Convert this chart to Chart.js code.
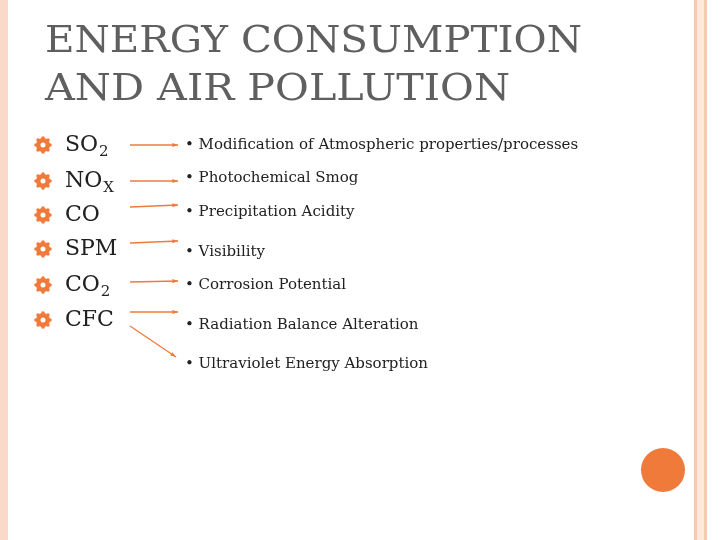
<!DOCTYPE html>
<html>
<head>
<meta charset="utf-8">
<script src="https://cdn.jsdelivr.net/npm/chart.js@4/dist/chart.umd.min.js"></script>
<style>
  html, body { margin: 0; padding: 0; background: #fff; }
  #wrap { width: 720px; height: 540px; }
</style>
</head>
<body>
<div id="wrap"><canvas id="slide"></canvas></div>
<script>
// slide content
const titleLines = ["ENERGY CONSUMPTION", "AND AIR POLLUTION"];
const pollutants = [["SO", "2"], ["NO", "X"], ["CO", ""], ["SPM", ""], ["CO", "2"], ["CFC", ""]];
const pollutantY = [145, 181, 215, 249, 285, 320];
const effects = [
  "Modification of Atmospheric properties/processes",
  "Photochemical Smog",
  "Precipitation Acidity",
  "Visibility",
  "Corrosion Potential",
  "Radiation Balance Alteration",
  "Ultraviolet Energy Absorption"
];
const effectY = [145, 178, 212, 252, 285, 325, 364];
// arrows: [x0, y0, x1, y1] in slide units
const arrowFrom = [[130, 145], [130, 181], [130, 207], [130, 243], [130, 282], [130, 312], [130, 326]];
const arrowTo = [[178, 145], [178, 181], [178, 205], [178, 241], [178, 281], [178, 312], [176, 357]];

const orange = "#f07a3a";
const serif = "'DejaVu Serif'";

const arrowSets = arrowFrom.map((p, i) => ({
  data: [{ x: p[0], y: p[1] }, { x: arrowTo[i][0], y: arrowTo[i][1] }],
  showLine: true,
  borderColor: orange,
  borderWidth: 1.3,
  pointRadius: 0
}));

// draw text squeezed to a target width while keeping its height
function fitText(c, text, x, y, size, width) {
  c.font = size + "px " + serif;
  const w = c.measureText(text).width;
  c.save();
  c.translate(x, y);
  c.scale(width / w, 1);
  c.fillText(text, 0, 0);
  c.restore();
}

const slidePlugin = {
  id: "slideText",
  beforeDraw(chart) {
    const c = chart.ctx;
    c.save();
    c.fillStyle = "#fff";
    c.fillRect(0, 0, chart.width, chart.height);
    c.fillStyle = "#fbd9c8";
    c.fillRect(0, 0, 8, 540);
    c.fillStyle = "#f8c8b0";
    c.fillRect(694, 0, 3, 540);
    c.fillRect(704, 0, 3, 540);
    c.fillStyle = "#fde8dc";
    c.fillRect(697, 0, 7, 540);
    c.restore();
  },
  afterDatasetsDraw(chart) {
    const c = chart.ctx, xs = chart.scales.x, ys = chart.scales.y;
    c.save();
    c.fillStyle = orange;
    c.beginPath();
    c.arc(xs.getPixelForValue(663), ys.getPixelForValue(470), 22, 0, Math.PI * 2);
    c.fill();
    arrowFrom.forEach((p, i) => {
      const x1 = xs.getPixelForValue(arrowTo[i][0]), y1 = ys.getPixelForValue(arrowTo[i][1]);
      const a = Math.atan2(y1 - ys.getPixelForValue(p[1]), x1 - xs.getPixelForValue(p[0]));
      c.beginPath();
      c.moveTo(x1, y1);
      c.lineTo(x1 - 6 * Math.cos(a - 0.35), y1 - 6 * Math.sin(a - 0.35));
      c.lineTo(x1 - 6 * Math.cos(a + 0.35), y1 - 6 * Math.sin(a + 0.35));
      c.fill();
    });
    // title
    c.fillStyle = "#5f5f5f";
    c.textBaseline = "alphabetic";
    fitText(c, titleLines[0], 45, 52, 38, 537);
    fitText(c, titleLines[1], 45, 100, 38, 465);
    // pollutants
    c.textBaseline = "middle";
    pollutants.forEach((p, i) => {
      const y = ys.getPixelForValue(pollutantY[i]);
      // gear bullet
      c.fillStyle = orange;
      c.beginPath();
      c.arc(43, y, 7, 0, Math.PI * 2);
      c.fill();
      for (let k = 0; k < 8; k++) {
        const a = k * Math.PI / 4;
        c.beginPath();
        c.arc(43 + 7 * Math.cos(a), y + 7 * Math.sin(a), 1.8, 0, Math.PI * 2);
        c.fill();
      }
      c.fillStyle = "#fff";
      c.beginPath();
      c.arc(43, y, 2.5, 0, Math.PI * 2);
      c.fill();
      c.fillStyle = "#222";
      c.font = "22px " + serif;
      c.fillText(p[0], 65, y);
      if (p[1]) {
        const w = c.measureText(p[0]).width;
        c.font = "15px " + serif;
        c.fillText(p[1], 65 + w + 1, y + 7);
      }
    });
    // effects
    c.fillStyle = "#222";
    c.font = "15px " + serif;
    effects.forEach((t, i) => c.fillText("\u2022 " + t, 185, ys.getPixelForValue(effectY[i])));
    c.restore();
  }
};

new Chart("slide", {
  type: "scatter",
  data: { datasets: arrowSets },
  options: {
    responsive: true,
    maintainAspectRatio: false,
    animation: false,
    layout: { padding: 0 },
    plugins: { legend: { display: false }, tooltip: { enabled: false } },
    scales: {
      x: { display: false, min: 0, max: 720 },
      y: { display: false, min: 0, max: 540, reverse: true }
    }
  },
  plugins: [slidePlugin]
});
</script>
</body>
</html>
